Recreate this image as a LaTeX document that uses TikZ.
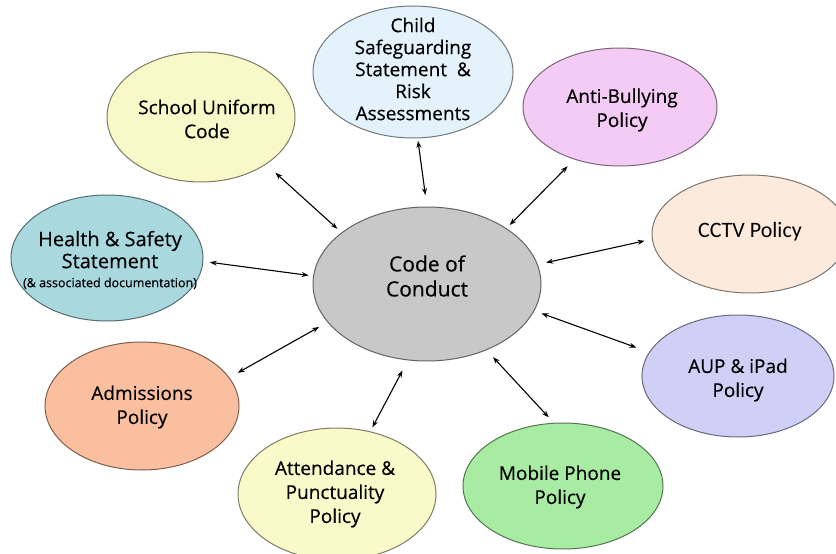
\documentclass[tikz,border=0pt]{standalone}
\usepackage{fontspec}
\setmainfont{Open Sans}[FakeBold=0.3]
\newfontfamily\calib{Carlito}
\usetikzlibrary{shapes.geometric,arrows.meta}
\definecolor{cGray}{HTML}{C8C8C8}
\definecolor{cU}{HTML}{F8F8C8}
\definecolor{cS}{HTML}{E3F2FB}
\definecolor{cB}{HTML}{F4CBF4}
\definecolor{cT}{HTML}{FCEBDC}
\definecolor{cH}{HTML}{A9D9DF}
\definecolor{cP}{HTML}{D0D0F7}
\definecolor{cA}{HTML}{F9BF9F}
\definecolor{cN}{HTML}{F9F9C9}
\definecolor{cM}{HTML}{A8EBA2}
\begin{document}
\begin{tikzpicture}[x=1pt,y=1pt,
  bubble/.style={ellipse, inner sep=0pt, outer sep=0pt, draw=#1!50!black, line width=1pt, fill=#1},
  txt/.style={align=center, inner sep=0pt, font=\fontsize{19}{24}\selectfont},
  link/.style={{Stealth[length=7pt,width=5pt]}-{Stealth[length=7pt,width=5pt]}, line width=1.1pt}]
\useasboundingbox (0,0) rectangle (836,-554);
\clip (0,0) rectangle (836,-554);
% centre
\node[bubble=cGray, minimum width=228pt, minimum height=154pt] (C) at (427,-284) {};
\node[txt, font=\fontsize{21}{25}\selectfont] (Ct) at (427,-276) {Code of\\Conduct};
% outer bubbles
\node[bubble=cU, minimum width=188pt, minimum height=130pt] (U) at (201,-117) {};
\node[txt] (Ut) at (207,-119) {School Uniform\\Code};
\node[bubble=cS, minimum width=200pt, minimum height=132pt] (S) at (413,-72) {};
\node[txt, font=\fontsize{19}{22}\selectfont] (St) at (413,-69) {Child\\Safeguarding\\Statement \ \&\\Risk\\Assessments};
\node[bubble=cB, minimum width=194pt, minimum height=118pt] (B) at (620,-107) {};
\node[txt] (Bt) at (622,-110) {Anti-Bullying\\Policy};
\node[bubble=cT, minimum width=196pt, minimum height=118pt] (T) at (750,-234) {};
\node[txt, font=\calib\fontsize{22}{26}\selectfont] (Tt) at (750,-232) {CCTV Policy};
\node[bubble=cH, minimum width=192pt, minimum height=126pt] (H) at (107,-258) {};
\node[txt, font=\fontsize{20}{22}\selectfont] (Ht) at (110,-260) {Health \& Safety\\Statement\\[-3pt]{\fontsize{12.5}{14}\selectfont(\& associated documentation)}};
\node[bubble=cP, minimum width=192pt, minimum height=122pt] (P) at (738,-376) {};
\node[txt] (Pt) at (738,-380) {AUP \& iPad\\Policy};
\node[bubble=cA, minimum width=194pt, minimum height=128pt] (A) at (142,-406) {};
\node[txt] (At) at (142,-407) {Admissions\\Policy};
\node[bubble=cN, minimum width=198pt, minimum height=132pt] (N) at (337,-494) {};
\node[txt] (Nt) at (335,-494) {Attendance \&\\Punctuality\\Policy};
\node[bubble=cM, minimum width=200pt, minimum height=126pt] (M) at (563,-486) {};
\node[txt] (Mt) at (560,-487) {Mobile Phone\\Policy};
% connectors
\draw[link, shorten <=13pt, shorten >=6pt] (U.-36) -- (C.149);
\draw[link, shorten <=3pt, shorten >=12pt] (S.-86) -- (C.90);
\draw[link, shorten <=10pt, shorten >=5pt] (B.-131) -- (C.35);
\draw[link, shorten <=8pt, shorten >=9pt] (T.183) -- (C.10);
\draw[link, shorten <=14pt, shorten >=8pt] (P.165) -- (C.-14);
\draw[link, shorten <=8pt, shorten >=10pt] (M.98) -- (C.-48);
\draw[link, shorten <=5pt, shorten >=12pt] (N.62) -- (C.-104);
\draw[link, shorten <=10pt, shorten >=10pt] (A.18) -- (C.-159);
\draw[link, shorten <=7pt, shorten >=5pt] (H.-2) -- (C.176);
\end{tikzpicture}
\end{document}
